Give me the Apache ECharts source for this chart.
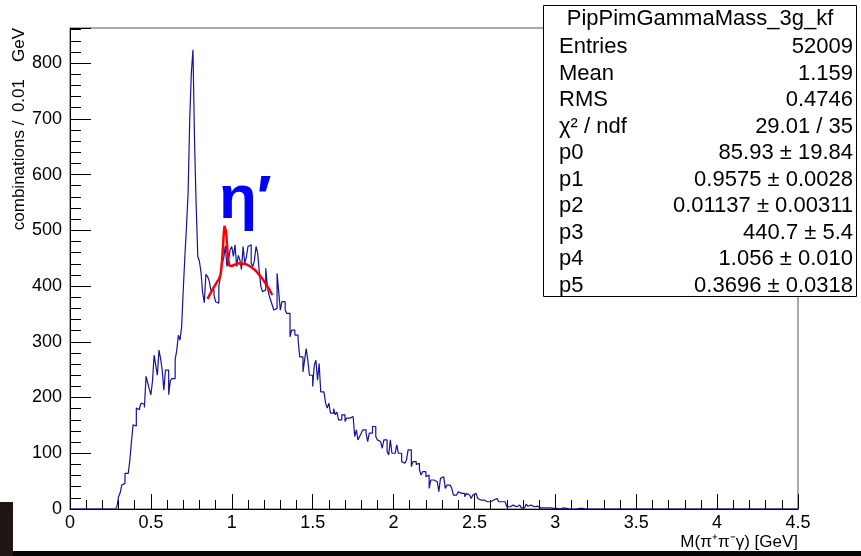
<!DOCTYPE html>
<html>
<head>
<meta charset="utf-8">
<script src="https://cdn.jsdelivr.net/npm/echarts@6/dist/echarts.min.js"></script>
<style>
html,body{margin:0;padding:0;background:#fff;}
#chart{width:861px;height:556px;}
</style>
</head>
<body>
<div id="chart"></div>
<script>
// ---- data ----
const binWidth = 0.01;
const firstBinLow = 0.28;
const counts = [
  1, 4, 22, 29, 43, 46, 64, 64, 66, 88,            // 0.28-0.37
  121, 151, 149, 181, 178, 182, 190, 188, 182, 238,  // 0.38-0.47
  227, 215, 205, 230, 276, 258, 240, 285, 270, 249,  // 0.48-0.57
  213, 249, 249, 205, 230, 234, 234, 268, 285, 312,  // 0.58-0.67
  303, 327, 393, 453, 507, 567, 698, 782, 824, 657,  // 0.68-0.77
  543, 453, 444, 424, 388, 370, 421, 417, 410, 393,  // 0.78-0.87
  393, 384, 372, 369, 400, 417, 441, 450, 472, 435,  // 0.88-0.97
  448, 465, 471, 453, 474, 435, 455, 447, 430, 471,  // 0.98-1.07
  441, 452, 471, 474, 441, 435, 446, 471, 459, 426,  // 1.08-1.17
  399, 390, 393, 432, 399, 384, 375, 366, 357, 360,  // 1.18-1.27
  423, 390, 357, 372, 372, 357, 351, 351, 309, 321,  // 1.28-1.37
  321, 312, 312, 303, 273, 273, 246, 267, 288, 267,  // 1.38-1.47
  240, 240, 220, 258, 267, 231, 261, 210, 210, 210,  // 1.48-1.57
  190, 181, 190, 172, 172, 180, 169, 174, 160, 160,  // 1.58-1.67
  169, 169, 157, 163, 163, 160, 166, 166, 130, 142,  // 1.68-1.77
  124, 130, 136, 142, 142, 136, 121, 136, 136, 148,  // 1.78-1.87
  148, 130, 124, 121, 121, 109, 124, 124, 103, 97,   // 1.88-1.97
  124, 100, 100, 97, 115, 100, 100, 85, 82, 82,      // 1.98-2.07
  88, 106, 106, 76, 85, 85, 80, 82, 70, 61,          // 2.08-2.17
  67, 67, 58, 61, 37, 52, 52, 52, 49, 52,            // 2.18-2.27
  31, 55, 58, 58, 37, 43, 43, 43, 37, 25,            // 2.28-2.37
  25, 22, 31, 28, 31, 28, 22, 28, 25, 25,            // 2.38-2.47
  19, 25, 28, 28, 19, 16, 16, 16, 16, 13,            // 2.48-2.57
  16, 13, 16, 16, 13, 19, 16, 13, 13, 10,            // 2.58-2.67
  13, 10, 4, 4, 4, 7, 5, 4, 4, 7,                    // 2.68-2.77
  4, 2, 2, 5, 9, 5, 7, 5, 4, 5,                      // 2.78-2.87
  5, 3, 2, 3, 2, 2, 2, 3, 2, 2,                      // 2.88-2.97
  1, 0, 1, 1, 0, 0, 2, 3, 1, 0,                      // 2.98-3.07
  0, 0, 0, 0, 0, 0, 1, 1, 1, 1,                      // 3.08-3.17
  0, 0                                               // 3.18-3.19
];
const xMin = 0, xMax = 4.5;

// fit curve (red)
const fitX = [0.85, 0.87, 0.89, 0.91, 0.92, 0.925, 0.93, 0.935, 0.94, 0.945, 0.95, 0.955, 0.9575, 0.96, 0.965, 0.97, 0.975, 0.98, 0.985, 0.99, 1.00, 1.01, 1.03, 1.05, 1.07, 1.09, 1.11, 1.13, 1.15, 1.17, 1.19, 1.21, 1.23, 1.25];
const fitY = [377, 388, 398, 408, 412, 415, 420, 430, 446, 468, 492, 508, 511, 510, 497, 476, 457, 444, 437, 435, 436, 437, 440, 441, 440, 439, 436, 432, 427, 420, 413, 404, 395, 384];

// stats box
const statsTitle = 'PipPimGammaMass_3g_kf';
const statsLabels = ['Entries', 'Mean', 'RMS', 'χ² / ndf', 'p0', 'p1', 'p2', 'p3', 'p4', 'p5'];
const statsValues = ['52009', '1.159', '0.4746', '29.01 / 35', '85.93 ± 19.84', '0.9575 ± 0.0028', '0.01137 ± 0.00311', '440.7 ± 5.4', '1.056 ± 0.010', '0.3696 ± 0.0318'];

const xTitle = 'M(π⁺π⁻γ) [GeV]';
const yTitle = 'combinations /\u20020.01\u2003GeV';
const peakLabel = 'η′';

// ---- build ----
const FONT = '"Liberation Sans", Arial, Helvetica, sans-serif';
const nBins = Math.round((xMax - xMin) / binWidth);
const firstIdx = Math.round((firstBinLow - xMin) / binWidth);
const histPts = [];
for (let i = 0; i < nBins; i++) {
  const j = i - firstIdx;
  const v = (j >= 0 && j < counts.length) ? counts[j] : 0;
  histPts.push([+(xMin + i * binWidth).toFixed(4), v]);
}
histPts.push([xMax, 0]);
const fitPts = fitX.map((x, k) => [x, fitY[k]]);

const chart = echarts.init(document.getElementById('chart'), null, {renderer: 'canvas'});

const statsEls = [];
statsEls.push({type: 'rect', shape: {x: 543.5, y: 5.5, width: 313, height: 291}, style: {fill: '#fff', stroke: '#000', lineWidth: 1}, z: 100});
statsEls.push({type: 'text', x: 700, y: 19, style: {text: statsTitle, font: '22px ' + FONT, fill: '#000', align: 'center', verticalAlign: 'middle'}, z: 101});
statsLabels.forEach((lab, k) => {
  const y = 47 + k * 26.5;
  statsEls.push({type: 'text', x: 559, y: y, style: {text: lab, font: '22px ' + FONT, fill: '#000', align: 'left', verticalAlign: 'middle'}, z: 101});
  statsEls.push({type: 'text', x: 853, y: y, style: {text: statsValues[k], font: '22px ' + FONT, fill: '#000', align: 'right', verticalAlign: 'middle'}, z: 101});
});

const option = {
  animation: false,
  backgroundColor: '#fff',
  grid: {left: 70, right: 63, top: 28, bottom: 47, show: true, borderColor: '#555', borderWidth: 1, backgroundColor: 'transparent'},
  xAxis: [{
    type: 'value', min: xMin, max: xMax, interval: 0.5,
    axisLine: {show: true, onZero: false, lineStyle: {color: '#000', width: 1}},
    axisTick: {show: true, inside: true, length: 15, lineStyle: {color: '#000', width: 1}},
    minorTick: {show: true, splitNumber: 5, length: 9, lineStyle: {color: '#000', width: 1}},
    splitLine: {show: false}, minorSplitLine: {show: false},
    axisLabel: {fontSize: 18, fontFamily: FONT, color: '#000', margin: 5},
    name: xTitle, nameLocation: 'end', nameGap: 0,
    nameTextStyle: {fontSize: 17, fontFamily: FONT, color: '#000', align: 'right', verticalAlign: 'top', padding: [25, 0, 0, 0]}
  }],
  yAxis: [{
    type: 'value', min: 0, max: 863, interval: 20,
    axisLine: {show: true, onZero: false, lineStyle: {color: '#000', width: 1}},
    axisTick: {show: true, inside: true, length: 11, lineStyle: {color: '#000', width: 1}},
    axisLabel: {show: false},
    splitLine: {show: false}
  }, {
    type: 'value', min: 0, max: 863, interval: 100, position: 'left',
    axisLine: {show: false},
    axisTick: {show: true, inside: true, length: 21, lineStyle: {color: '#000', width: 1}},
    axisLabel: {fontSize: 18, fontFamily: FONT, color: '#000', margin: 8, formatter: v => (v % 100 === 0 ? String(v) : '')},
    splitLine: {show: false},
    name: yTitle, nameLocation: 'end', nameRotate: 90, nameGap: 0,
    nameTextStyle: {fontSize: 17, fontFamily: FONT, color: '#000', align: 'right', verticalAlign: 'bottom', padding: [0, 0, 42, 0]}
  }],
  series: [{
    type: 'line', step: 'end', data: histPts, showSymbol: false, symbol: 'none',
    xAxisIndex: 0, yAxisIndex: 0,
    lineStyle: {color: '#1212a0', width: 1.2}, z: 3
  }, {
    type: 'line', data: fitPts, showSymbol: false, symbol: 'none', smooth: false,
    xAxisIndex: 0, yAxisIndex: 0,
    lineStyle: {color: '#ff0000', width: 2.5}, z: 4
  }],
  graphic: [
    {type: 'text', left: 219, top: 170, style: {text: peakLabel, font: 'bold 62px ' + FONT, fill: '#0000ff'}, z: 50},
    {type: 'group', children: statsEls, z: 100},
    {type: 'rect', shape: {x: 0, y: 551, width: 861, height: 5}, style: {fill: '#050505'}, z: 120},
    {type: 'rect', shape: {x: 0, y: 502, width: 13, height: 54}, style: {fill: '#1e1612'}, z: 120}
  ]
};
chart.setOption(option);
</script>
</body>
</html>
